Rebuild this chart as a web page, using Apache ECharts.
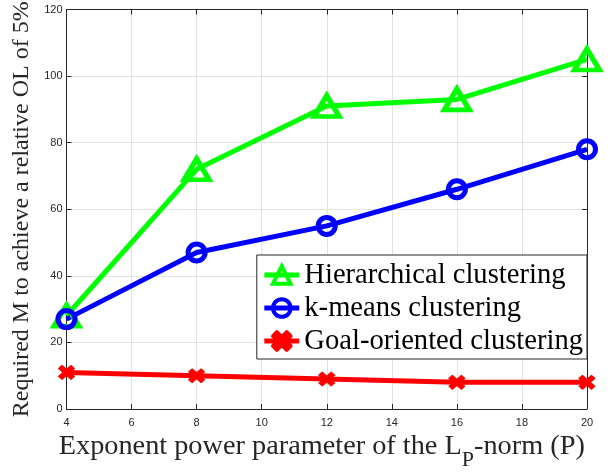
<!DOCTYPE html>
<html><head><meta charset="utf-8">
<script src="https://cdn.jsdelivr.net/npm/echarts@6/dist/echarts.min.js"></script>
<style>html,body{margin:0;padding:0;background:#fff}#c{width:610px;height:473px}</style>
</head><body><div id="c"></div>
<script>
// ---- data ----
const xValues = [4, 8, 12, 16, 20];
const hierarchical = [28, 72, 91, 93, 105];
const kmeans = [27, 47, 55, 66, 78];
const goalOriented = [11, 10, 9, 8, 8];
const seriesNames = ['Hierarchical clustering', 'k-means clustering', 'Goal-oriented clustering'];
const xRange = { min: 4, max: 20, interval: 2 };
const yRange = { min: 0, max: 120, interval: 20 };
const xTitle = '{a|Exponent power parameter of the L}{s|P}{a|-norm (P)}';
const yTitle = 'Required M to achieve a relative OL of 5%';

// ---- styling ----
const AX = '#262626';
const SERIF = '"Liberation Serif","Times New Roman",serif';
const SANS = '"Liberation Sans",Arial,Helvetica,sans-serif';
const xPath = 'path://M0,2.2L2.2,0L5,2.8L7.8,0L10,2.2L7.2,5L10,7.8L7.8,10L5,7.2L2.2,10L0,7.8L2.8,5Z';

const toPts = arr => xValues.map((x, i) => [x, arr[i]]);

function mainAxis(range, extra) {
  return Object.assign({
    type: 'value', min: range.min, max: range.max, interval: range.interval,
    axisLine: { show: true, onZero: false, lineStyle: { color: AX, width: 1 } },
    axisTick: { show: true, inside: true, length: 5, lineStyle: { color: AX } },
    splitLine: { show: true, lineStyle: { color: '#e3e3e3', width: 1 } },
    axisLabel: { color: AX, fontFamily: SANS, fontSize: 11 }
  }, extra);
}
function mirrorAxis(range, pos) {
  return {
    type: 'value', min: range.min, max: range.max, interval: range.interval, position: pos,
    axisLine: { show: true, onZero: false, lineStyle: { color: AX, width: 1 } },
    axisTick: { show: true, inside: true, length: 5, lineStyle: { color: AX } },
    splitLine: { show: false }, axisLabel: { show: false }
  };
}

const chart = echarts.init(document.getElementById('c'), null, { renderer: 'canvas' });
chart.setOption({
  backgroundColor: '#fff',
  animation: false,
  grid: { left: 66.5, right: 23, top: 9.5, bottom: 64, containLabel: false, outerBoundsMode: 'none' },
  xAxis: [
    mainAxis(xRange, {
      position: 'bottom',
      axisLabel: { color: AX, fontFamily: SANS, fontSize: 11, margin: 8 },
      name: xTitle, nameLocation: 'middle', nameGap: 24,
      nameTextStyle: {
        padding: [0, 10, 0, 0],
        rich: {
          a: { fontFamily: SERIF, fontSize: 28.3, color: AX, verticalAlign: 'top', lineHeight: 30 },
          s: { fontFamily: SERIF, fontSize: 22, color: AX, verticalAlign: 'top', lineHeight: 22, padding: [16, 0, 0, 0] }
        }
      }
    }),
    mirrorAxis(xRange, 'top')
  ],
  yAxis: [
    mainAxis(yRange, {
      position: 'left',
      axisLabel: { color: AX, fontFamily: SANS, fontSize: 11, margin: 4 },
      name: yTitle, nameLocation: 'middle', nameRotate: 90, nameGap: 30,
      nameTextStyle: { fontFamily: SERIF, fontSize: 24, color: AX }
    }),
    mirrorAxis(yRange, 'right')
  ],
  legend: {
    orient: 'vertical', right: 23, top: 255,
    backgroundColor: '#fff', borderColor: AX, borderWidth: 1, borderRadius: 0,
    padding: [5, 4, 3, 5], itemGap: 3, itemWidth: 35, itemHeight: 22,
    textStyle: { fontFamily: SERIF, fontSize: 28.6, color: '#000', lineHeight: 30 },
    lineStyle: { width: 5 },
    itemStyle: { borderWidth: 4 },
    data: seriesNames
  },
  series: [
    {
      name: seriesNames[0], type: 'line', data: toPts(hierarchical),
      color: '#00ff00',
      lineStyle: { color: '#00ff00', width: 5 },
      symbol: 'triangle', symbolSize: [25, 21],
      itemStyle: { color: 'rgba(255,255,255,0)', borderColor: '#00ff00', borderWidth: 5 }
    },
    {
      name: seriesNames[1], type: 'line', data: toPts(kmeans),
      color: '#0000ff',
      lineStyle: { color: '#0000ff', width: 5 },
      symbol: 'circle', symbolSize: 17,
      itemStyle: { color: 'rgba(255,255,255,0)', borderColor: '#0000ff', borderWidth: 5 }
    },
    {
      name: seriesNames[2], type: 'line', data: toPts(goalOriented),
      color: '#ff0000',
      lineStyle: { color: '#ff0000', width: 5 },
      symbol: xPath, symbolSize: [16, 14],
      itemStyle: { color: '#ff0000', borderColor: '#ff0000', borderWidth: 1, borderJoin: 'round' }
    }
  ]
});
</script>
</body></html>
